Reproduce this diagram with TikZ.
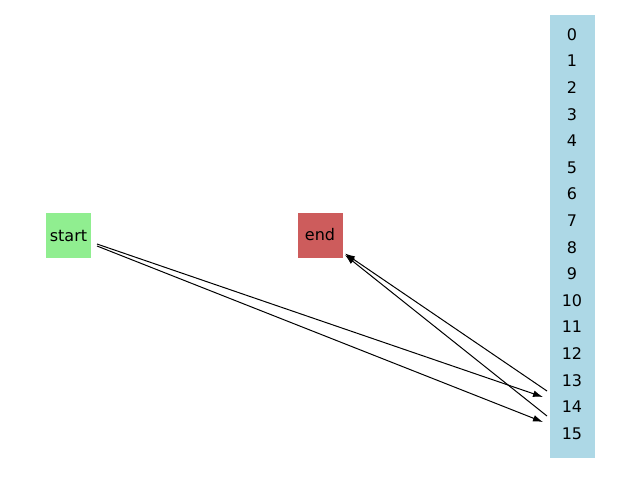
\documentclass[tikz,border=0pt]{standalone}
\usepackage{fontspec}
\setmainfont{DejaVu Sans}
\usetikzlibrary{arrows.meta}

\definecolor{lightgreen}{HTML}{90EE90}
\definecolor{indianred}{HTML}{CD5C5C}
\definecolor{lightblue}{HTML}{ADD8E6}

\tikzset{
  box/.style={minimum width=33.75pt, minimum height=33.75pt, inner sep=0pt, font=\fontsize{12}{14}\selectfont},
  idx/.style={inner sep=0pt, font=\fontsize{12}{14}\selectfont},
  edge/.style={line width=0.75pt, -{Latex[length=7.5pt,width=5pt]}}
}

\begin{document}
\begin{tikzpicture}[x=0.75pt, y=-0.75pt]
\useasboundingbox (0,0) rectangle (640,480);

% start and end
\node[box, fill=lightgreen] (start) at (68.5,235.5) {start};
\node[box, fill=indianred] (end) at (320,235) {end};

% index column
\node[fill=lightblue, minimum width=33.75pt, minimum height=332pt, inner sep=0pt] (col) at (572.5,236.5) {};
\foreach \i in {0,...,15}
  \node[idx] (n\i) at (572,34.5+26.6*\i) {\i};

% edge ends
\coordinate (s1) at (97,244);
\coordinate (s2) at (97,246);
\coordinate (t1) at (543,397);
\coordinate (t2) at (543,422);
\coordinate (u1) at (547,391);
\coordinate (u2) at (547,416);
\coordinate (e1) at (345,253.5);
\coordinate (e2) at (345,255);

% edges
\draw[edge] (s1) -- (t1);
\draw[edge] (s2) -- (t2);
\draw[edge] (u1) -- (e1);
\draw[edge] (u2) -- (e2);

\end{tikzpicture}
\end{document}
